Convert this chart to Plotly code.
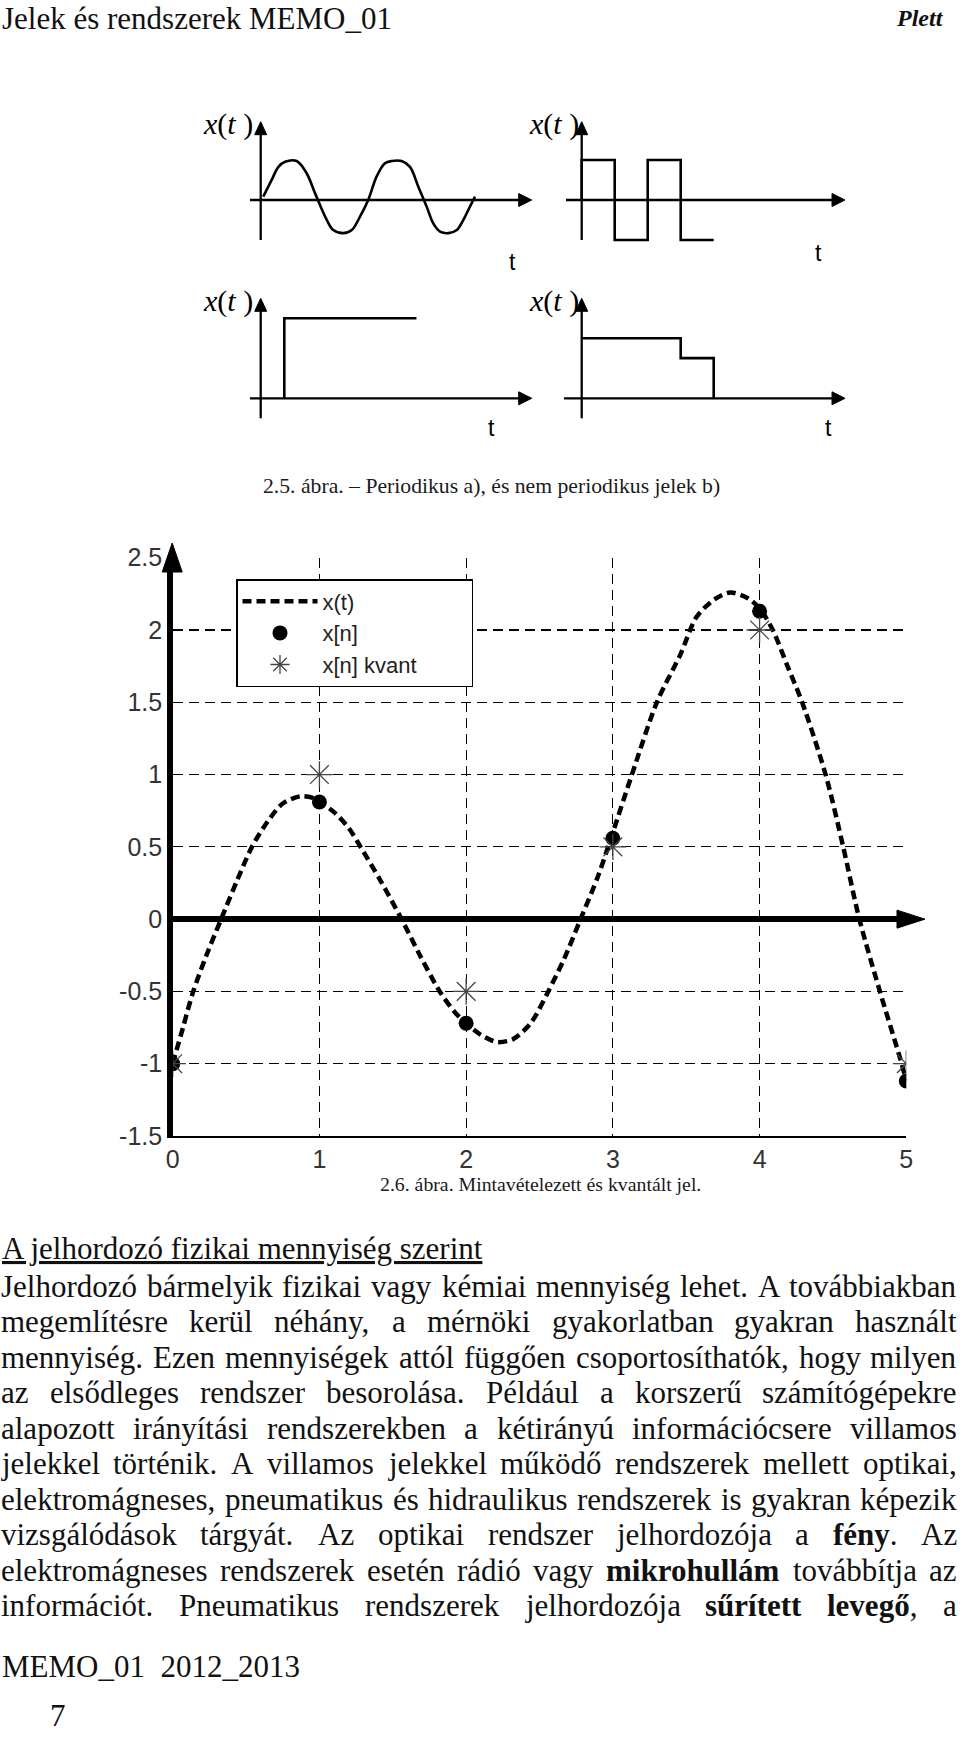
import re
import plotly.graph_objects as go

W, H = 960, 1739

# ---------------- main chart data ----------------
t_cont = [0, 0.07, 0.14, 0.23, 0.33, 0.44, 0.54, 0.65, 0.75, 0.87, 0.95, 1.0, 1.1, 1.2, 1.28,
          1.42, 1.56, 1.69, 1.82, 1.92, 2.0, 2.1, 2.21, 2.32, 2.44, 2.56, 2.67, 2.78, 2.9, 3.0,
          3.13, 3.3, 3.46, 3.57, 3.69, 3.8, 3.92, 4.0, 4.09, 4.19, 4.29, 4.45, 4.57, 4.68, 4.82,
          4.96, 5.0]
x_cont = [-1.0, -0.75, -0.5, -0.25, 0.0, 0.27, 0.5, 0.68, 0.8, 0.85, 0.84, 0.81, 0.74, 0.63, 0.5,
          0.26, 0.0, -0.26, -0.5, -0.64, -0.72, -0.8, -0.85, -0.83, -0.72, -0.5, -0.27, 0.0, 0.3, 0.6,
          1.0, 1.5, 1.83, 2.09, 2.21, 2.26, 2.22, 2.15, 2.0, 1.75, 1.5, 1.0, 0.5, 0.0, -0.5,
          -0.97, -1.12]
n_idx = [0, 1, 2, 3, 4, 5]
x_samp = [-1.0, 0.81, -0.72, 0.56, 2.13, -1.12]
x_quant = [-1.0, 1.0, -0.5, 0.5, 2.0, -1.0]
x_ticks = [0, 1, 2, 3, 4, 5]
x_ticklabels = ["0", "1", "2", "3", "4", "5"]
y_ticks = [-1.5, -1, -0.5, 0, 0.5, 1, 1.5, 2, 2.5]
y_ticklabels = ["-1.5", "-1", "-0.5", "0", "0.5", "1", "1.5", "2", "2.5"]
legend_names = ["x(t)", "x[n]", "x[n] kvant" + "\u00a0" * 8]

# ---------------- sketch data (2.5. ábra) ----------------
sine_t = [0.10, 0.43, 0.70, 0.96, 1.42, 1.82, 2.15, 2.61, 2.87, 3.26, 3.60, 3.92, 4.25, 4.58,
          4.91, 5.18, 5.57, 5.90, 6.23, 6.56, 6.82, 7.09, 7.42, 7.75, 8.01, 8.27, 8.47]
sine_x = [0.085, 0.51, 0.85, 0.98, 1.0, 0.68, 0.17, -0.51, -0.77, -0.85, -0.77, -0.43, 0.0, 0.60,
          0.94, 1.0, 1.0, 0.85, 0.34, -0.17, -0.60, -0.81, -0.85, -0.77, -0.51, -0.17, 0.085]
square_t = [0, 0, 1, 1, 2, 2, 3, 3, 4]
square_x = [0, 1, 1, -1, -1, 1, 1, -1, -1]
step_t = [1, 1, 6.6]
step_x = [0, 1, 1]
stair_t = [0, 3, 3, 4, 4]
stair_x = [1, 1, 0.67, 0.67, 0]

# ---------------- text ----------------
header_left = "Jelek és rendszerek MEMO_01"
header_right = "Plett"
caption_25 = "2.5. ábra. – Periodikus a), és nem periodikus jelek b)"
caption_26 = "2.6. ábra. Mintavételezett és kvantált jel."
heading = "A jelhordozó fizikai mennyiség szerint"
body_lines = [
    "Jelhordozó bármelyik fizikai vagy kémiai mennyiség lehet. A továbbiakban",
    "megemlítésre kerül néhány, a mérnöki gyakorlatban gyakran használt",
    "mennyiség. Ezen mennyiségek attól függően csoportosíthatók, hogy milyen",
    "az elsődleges rendszer besorolása. Például a korszerű számítógépekre",
    "alapozott irányítási rendszerekben a kétirányú információcsere villamos",
    "jelekkel történik. A villamos jelekkel működő rendszerek mellett optikai,",
    "elektromágneses, pneumatikus és hidraulikus rendszerek is gyakran képezik",
    "vizsgálódások tárgyát. Az optikai rendszer jelhordozója a <b>fény</b>. Az",
    "elektromágneses rendszerek esetén rádió vagy <b>mikrohullám</b> továbbítja az",
    "információt. Pneumatikus rendszerek jelhordozója <b>sűrített</b> <b>levegő</b>, a",
]
footer_1 = "MEMO_01\u00a0 2012_2013"
footer_2 = "7"

SERIF = "Liberation Serif, Times New Roman, serif"
SANS = "Liberation Sans, Arial, sans-serif"
INK = "#111111"


def pxx(x):
    return x / W


def pxy(y):
    return 1 - y / H


fig = go.Figure()
shapes = []
annotations = []

# ---------------- main chart ----------------
CH_L, CH_R, CH_T, CH_B = 172.7, 906.3, 557.7, 1136.0
XR, YR = [0, 5], [-1.5, 2.5]

fig.add_trace(go.Scatter(x=t_cont, y=x_cont, mode="lines", name=legend_names[0],
                         line=dict(color="black", width=4.5, dash="9px,5px", shape="spline", smoothing=0.8),
                         xaxis="x", yaxis="y"))
fig.add_trace(go.Scatter(x=n_idx, y=x_samp, mode="markers", name=legend_names[1],
                         marker=dict(symbol="circle", size=15, color="black"),
                         xaxis="x", yaxis="y"))
fig.add_trace(go.Scatter(x=n_idx, y=x_quant, mode="markers", name=legend_names[2],
                         marker=dict(symbol="asterisk-open", size=22, color="#444",
                                     line=dict(color="#444", width=1.3)),
                         xaxis="x", yaxis="y"))

grid = dict(showgrid=True, gridcolor="black", gridwidth=1.2, griddash="10px,6px")
layout = dict(
    width=W, height=H, margin=dict(l=0, r=0, t=0, b=0), autosize=False,
    paper_bgcolor="white", plot_bgcolor="white",
    showlegend=True,
    legend=dict(x=pxx(236), y=pxy(579), xanchor="left", yanchor="top",
                bgcolor="white", bordercolor="black", borderwidth=1.5,
                font=dict(family=SANS, size=22, color="#222"), itemwidth=75,
                tracegroupgap=0),
    xaxis=dict(domain=[pxx(CH_L), pxx(CH_R)], range=XR, anchor="y", zeroline=False,
               showline=True, linecolor="black", linewidth=2,
               tickvals=x_ticks, ticktext=x_ticklabels, ticks="", ticklabelstandoff=0,
               tickfont=dict(family=SANS, size=25, color="#333"), automargin=False,
               fixedrange=True, **grid),
    yaxis=dict(domain=[pxy(CH_B), pxy(CH_T)], range=YR, anchor="x",
               zeroline=True, zerolinecolor="black", zerolinewidth=6,
               showline=True, linecolor="black", linewidth=5.5,
               tickvals=y_ticks, ticktext=y_ticklabels, ticks="", ticklabelstandoff=0,
               tickfont=dict(family=SANS, size=25, color="#333"), automargin=False,
               fixedrange=True, **grid),
)

# axis arrowheads of the main chart (paper refs so they are not clipped)
y0_paper = pxy(CH_B) + (0 - YR[0]) / (YR[1] - YR[0]) * (pxy(CH_T) - pxy(CH_B))
shapes.append(dict(type="path", xref="paper", yref="paper", xsizemode="pixel", ysizemode="pixel",
                   xanchor=pxx(CH_L - 0.5), yanchor=pxy(543), path="M0,0 L-10,-29 L10,-29 Z",
                   fillcolor="black", line=dict(color="black", width=1)))
shapes.append(dict(type="path", xref="paper", yref="paper", xsizemode="pixel", ysizemode="pixel",
                   xanchor=pxx(925), yanchor=y0_paper, path="M0,0 L-28,9 L-28,-9 Z",
                   fillcolor="black", line=dict(color="black", width=1)))

# ---------------- sketches ----------------
sketches = [
    dict(idx=2, reg=(240, 545, 100, 262), org=(260.7, 200), unit=(25.3, 39),
         xax=(250, 531.7), yax=(240, 121.7), t=sine_t, x=sine_x, shape="spline",
         lab=(228, 124), tlab=(512, 262)),
    dict(idx=3, reg=(560, 862, 100, 262), org=(581.7, 200), unit=(33, 40),
         xax=(566, 845), yax=(240, 121.7), t=square_t, x=square_x, shape="linear",
         lab=(554, 124), tlab=(818.3, 253)),
    dict(idx=4, reg=(240, 545, 282, 440), org=(260.7, 398.3), unit=(23.6, 80),
         xax=(250, 531.7), yax=(418.3, 298.3), t=step_t, x=step_x, shape="linear",
         lab=(228, 301), tlab=(492, 428)),
    dict(idx=5, reg=(560, 862, 282, 440), org=(581.7, 398.3), unit=(33, 60),
         xax=(564, 845), yax=(418.3, 298.3), t=stair_t, x=stair_x, shape="linear",
         lab=(554, 301), tlab=(828, 428)),
]
for s in sketches:
    L, R, T, B = s["reg"]
    ox, oy = s["org"]
    ux, uy = s["unit"]
    i = s["idx"]
    layout[f"xaxis{i}"] = dict(domain=[pxx(L), pxx(R)], range=[(L - ox) / ux, (R - ox) / ux],
                               visible=False, anchor=f"y{i}", fixedrange=True)
    layout[f"yaxis{i}"] = dict(domain=[pxy(B), pxy(T)], range=[(oy - B) / uy, (oy - T) / uy],
                               visible=False, anchor=f"x{i}", fixedrange=True)
    fig.add_trace(go.Scatter(x=s["t"], y=s["x"], mode="lines", showlegend=False,
                             line=dict(color="black", width=2.6, shape=s["shape"]),
                             xaxis=f"x{i}", yaxis=f"y{i}", hoverinfo="skip"))
    xa0, xa1 = s["xax"]
    ya0, ya1 = s["yax"]
    shapes.append(dict(type="line", xref="paper", yref="paper", x0=pxx(xa0), x1=pxx(xa1 - 8),
                       y0=pxy(oy), y1=pxy(oy), line=dict(color="black", width=2.3)))
    shapes.append(dict(type="line", xref="paper", yref="paper", x0=pxx(ox), x1=pxx(ox),
                       y0=pxy(ya0), y1=pxy(ya1 + 8), line=dict(color="black", width=2.3)))
    shapes.append(dict(type="path", xref="paper", yref="paper", xsizemode="pixel", ysizemode="pixel",
                       xanchor=pxx(xa1), yanchor=pxy(oy), path="M0,0 L-13,6.5 L-13,-6.5 Z",
                       fillcolor="black", line=dict(color="black", width=1)))
    shapes.append(dict(type="path", xref="paper", yref="paper", xsizemode="pixel", ysizemode="pixel",
                       xanchor=pxx(ox), yanchor=pxy(ya1), path="M0,0 L-6,-13 L6,-13 Z",
                       fillcolor="black", line=dict(color="black", width=1)))
    annotations.append(dict(xref="paper", yref="paper", x=pxx(s["lab"][0]), y=pxy(s["lab"][1]),
                            text="<i>x</i>(<i>t</i> )", showarrow=False, xanchor="center",
                            yanchor="middle", font=dict(family=SERIF, size=30, color="black")))
    annotations.append(dict(xref="paper", yref="paper", x=pxx(s["tlab"][0]), y=pxy(s["tlab"][1]),
                            text="t", showarrow=False, xanchor="center", yanchor="middle",
                            font=dict(family=SANS, size=23, color="black")))


# ---------------- page texts ----------------
def ann(text, x, y, size, xanchor="left", family=SERIF, color=INK, italic=False, bold=False):
    annotations.append(dict(xref="paper", yref="paper", x=pxx(x), y=pxy(y), text=text,
                            showarrow=False, xanchor=xanchor, yanchor="middle",
                            font=dict(family=family, size=size, color=color,
                                      style="italic" if italic else "normal",
                                      weight="bold" if bold else "normal")))


ann(header_left, 0, 18, 31)
ann(header_right, 946, 18, 24, xanchor="right", italic=True, bold=True)
ann(caption_25, 491, 486, 21.7, xanchor="center", color="#1a1a1a")
ann(caption_26, 540, 1184, 19.8, xanchor="center", color="#1a1a1a")
ann("<u>" + heading + "</u>", 0, 1248, 31)

# justified body text
TR = dict(a=444, b=500, c=444, d=500, e=444, f=333, g=500, h=500, i=278, j=278, k=500, l=278,
          m=778, n=500, o=500, p=500, q=500, r=333, s=389, t=278, u=500, v=500, w=722, x=500,
          y=500, z=444, A=722, B=667, C=667, D=722, E=611, F=556, G=722, H=722, I=333, J=389,
          K=722, L=611, M=889, N=722, O=722, P=556, R=667, S=556, T=611, U=722, V=722, Z=611)
TB = dict(a=500, b=556, c=444, d=556, e=444, f=333, g=500, h=556, i=278, j=333, k=556, l=278,
          m=833, n=556, o=500, p=556, r=444, s=389, t=333, u=556, v=500, w=722, y=500, z=444)
PUNCT = {".": 250, ",": 250, "(": 333, ")": 333, "_": 500, "–": 500}
ACC = {"á": "a", "é": "e", "í": "i", "ó": "o", "ö": "o", "ő": "o", "ú": "u", "ü": "u", "ű": "u",
       "Á": "A", "É": "E", "Í": "I", "Ó": "O", "Ö": "O", "Ő": "O", "Ú": "U", "Ü": "U", "Ű": "U"}


def word_width(word, size):
    tot = 0
    for part in re.split(r"(<b>.*?</b>)", word):
        if not part:
            continue
        bold = part.startswith("<b>")
        txt = part[3:-4] if bold else part
        tab = TB if bold else TR
        for ch in txt:
            c = ACC.get(ch, ch)
            if c in PUNCT:
                tot += PUNCT[c]
            else:
                tot += tab.get(c, TR.get(c, 500))
    return tot * size / 1000.0


BODY_SIZE = 31
LEFT, RIGHT = 1, 957
line_y = [1286, 1321.5, 1357, 1392.5, 1428, 1463.5, 1499, 1534.5, 1570, 1605.5]
for line, y in zip(body_lines, line_y):
    words = line.split(" ")
    widths = [word_width(w, BODY_SIZE) for w in words]
    gap = (RIGHT - LEFT - sum(widths)) / (len(words) - 1)
    x = LEFT
    for k, (w, wd) in enumerate(zip(words, widths)):
        if k == len(words) - 1:
            ann(w, RIGHT + 2, y, BODY_SIZE, xanchor="right")
        else:
            ann(w, x - 2, y, BODY_SIZE)
        x += wd + gap

ann(footer_1, 0, 1666, 31)
ann(footer_2, 58, 1715, 31, xanchor="center")

layout["shapes"] = shapes
layout["annotations"] = annotations
fig.update_layout(**layout)
fig.write_html("out.html", config={"displayModeBar": False, "staticPlot": True},
               post_script="document.body.style.margin='0';document.body.style.padding='0';"
                           "document.documentElement.style.margin='0';")
